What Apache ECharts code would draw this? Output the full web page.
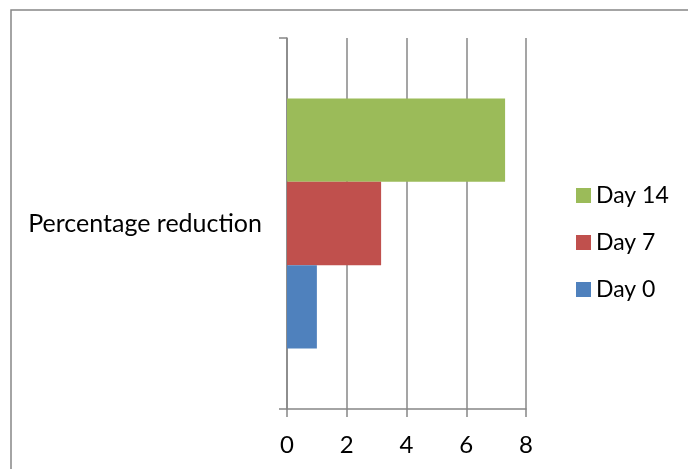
<!DOCTYPE html>
<html>
<head>
<meta charset="utf-8">
<script src="https://cdn.jsdelivr.net/npm/echarts@6/dist/echarts.min.js"></script>
<style>
  html, body { margin: 0; padding: 0; background: #ffffff; }
  #chart { width: 688px; height: 469px; }
</style>
</head>
<body>
<div id="chart"></div>
<script>
// Chart data
const categories = ['Percentage reduction'];
const seriesNames = ['Day 14', 'Day 7', 'Day 0'];   // drawn top to bottom within the band
const day0 = [1.0];
const day7 = [3.15];
const day14 = [7.3];
const xTicks = [0, 2, 4, 6, 8];

const colors = { 'Day 0': '#4F81BD', 'Day 7': '#C0504D', 'Day 14': '#9BBB59' };
const values = { 'Day 0': day0, 'Day 7': day7, 'Day 14': day14 };
const FONT = 'Lato, "Noto Sans", sans-serif';
const GRAY = '#878787';

const chart = echarts.init(document.getElementById('chart'), null, { renderer: 'canvas' });

chart.setOption({
  animation: false,
  backgroundColor: '#ffffff',
  graphic: [{
    type: 'rect',
    shape: { x: 11, y: 10, width: 900, height: 900 },
    style: { fill: 'none', stroke: GRAY, lineWidth: 1.5 },
    silent: true
  }],
  grid: { left: 287, right: 162, top: 38, bottom: 60, containLabel: false },
  legend: {
    orient: 'vertical',
    left: 576,
    top: 184,
    padding: 0,
    itemWidth: 15,
    itemHeight: 15,
    itemGap: 24,
    icon: 'rect',
    data: ['Day 14', 'Day 7', 'Day 0'],
    textStyle: { fontFamily: FONT, fontSize: 23, color: '#000000' }
  },
  xAxis: {
    type: 'value',
    min: xTicks[0],
    max: xTicks[xTicks.length - 1],
    interval: xTicks[1] - xTicks[0],
    axisLine: { show: true, lineStyle: { color: GRAY, width: 1.5 } },
    axisTick: { show: true, length: 8, lineStyle: { color: GRAY, width: 1.5 } },
    splitLine: { show: true, lineStyle: { color: GRAY, width: 1.5 } },
    axisLabel: { fontFamily: FONT, fontSize: 24, color: '#000000', margin: 24 }
  },
  yAxis: {
    type: 'category',
    data: categories,
    axisLine: { show: true, lineStyle: { color: GRAY, width: 1.5 } },
    axisTick: { show: true, length: 8, lineStyle: { color: GRAY, width: 1.5 } },
    axisLabel: { fontFamily: FONT, fontSize: 25, color: '#000000', margin: 25 }
  },
  series: seriesNames.map(name => ({
    name: name,
    type: 'bar',
    data: values[name],
    barGap: '0%',
    barCategoryGap: '32.6%',
    itemStyle: { color: colors[name] }
  }))
});
</script>
</body>
</html>
